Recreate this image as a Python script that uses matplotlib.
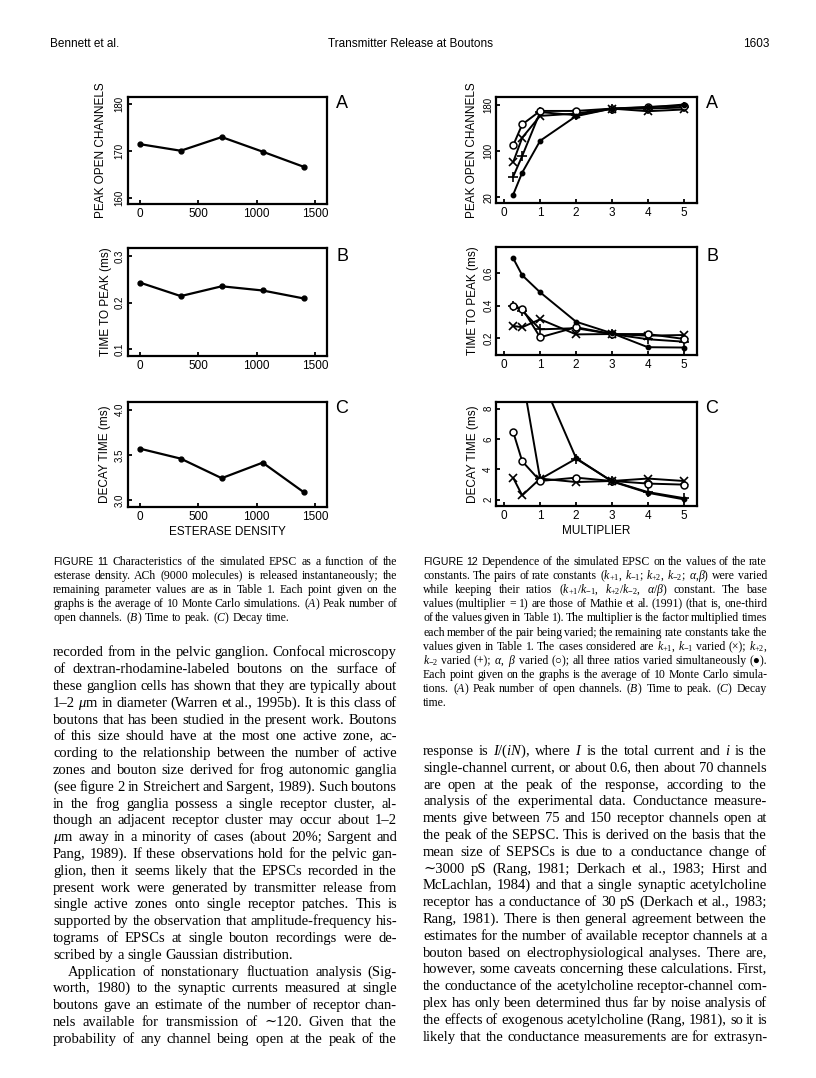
import math
import matplotlib
matplotlib.use("Agg")
import matplotlib.pyplot as plt
from matplotlib.font_manager import FontProperties
from matplotlib.backends.backend_agg import get_hinting_flag

plt.rcParams['mathtext.fontset'] = 'custom'
plt.rcParams['mathtext.rm'] = 'Liberation Serif'
plt.rcParams['mathtext.it'] = 'Liberation Serif:italic'
plt.rcParams['mathtext.bf'] = 'Liberation Serif:bold'

W, H = 816, 1078
SANS = 'Liberation Sans'
SERIF = 'Liberation Serif'
SERIF_FB = ['Liberation Serif', 'DejaVu Serif']

# ---- Figure 11: esterase density
esterase = [0, 350, 700, 1050, 1400]
peak_open_11 = [171.4, 170.0, 172.9, 169.8, 166.6]
time_to_peak_11 = [0.243, 0.214, 0.235, 0.226, 0.209]
decay_11 = [3.57, 3.46, 3.245, 3.416, 3.092]

# ---- Figure 12: rate constant multiplier
multiplier = [0.25, 0.5, 1, 2, 3, 4, 5]
peak_x = [81, 123, 160.5, 164.5, 173, 168.5, 171.5]
peak_plus = [56, 91.4, 167, 161.7, 173, 173, 175]
peak_circ = [110, 145.7, 169, 169, 173, 176, 178]
peak_dot = [25, 62.8, 117.6, 160, 173, 175, 180]

ttp_x = [0.276, 0.268, 0.317, 0.224, 0.226, 0.216, 0.22]
ttp_plus = [0.398, 0.37, 0.255, 0.262, 0.226, 0.194, 0.179]
ttp_circ = [0.398, 0.383, 0.206, 0.268, 0.226, 0.226, 0.196]
ttp_dot = [0.692, 0.588, 0.483, 0.302, 0.231, 0.145, 0.143]

decay_x = [3.43, 2.28, 3.39, 3.16, 3.23, 3.39, 3.23]
decay_plus = [14.0, 10.2, 3.35, 4.7, 3.22, 2.5, 2.1]
decay_circ = [6.46, 4.53, 3.23, 3.45, 3.23, 3.06, 2.99]
decay_dot = [18.0, 14.0, 10.2, 4.74, 3.2, 2.45, 2.02]

# ticks
ticks_11_x = [0, 500, 1000, 1500]
ticks_11 = [[160, 170, 180], [0.1, 0.2, 0.3], [3.0, 3.5, 4.0]]
ticklabels_11 = [['160', '170', '180'], ['0.1', '0.2', '0.3'], ['3.0', '3.5', '4.0']]
ticks_12_x = [0, 1, 2, 3, 4, 5]
ticks_12 = [[20, 100, 180], [0.2, 0.4, 0.6], [2, 4, 6, 8]]
ticklabels_12 = [['20', '100', '180'], ['0.2', '0.4', '0.6'], ['2', '4', '6', '8']]
ylabels = ['PEAK OPEN CHANNELS', 'TIME TO PEAK (ms)', 'DECAY TIME (ms)']
letters = ['A', 'B', 'C']

header = ['Bennett et al.', 'Transmitter Release at Boutons', '1603']

caption_11 = [
    "FIGURE 11 Characteristics of the simulated EPSC as a function of the",
    "esterase density. ACh (9000 molecules) is released instantaneously; the",
    "remaining parameter values are as in Table 1. Each point given on the",
    "graphs is the average of 10 Monte Carlo simulations. ($A$) Peak number of",
    "open channels. ($B$) Time to peak. ($C$) Decay time.",
]
caption_12 = [
    "FIGURE 12 Dependence of the simulated EPSC on the values of the rate",
    "constants. The pairs of rate constants ($k_{+1}$, $k_{-1}$; $k_{+2}$, $k_{-2}$; $\\alpha$,$\\beta$) were varied",
    "while keeping their ratios ($k_{+1}/k_{-1}$, $k_{+2}/k_{-2}$, $\\alpha/\\beta$) constant. The base",
    "values (multiplier = 1) are those of Mathie et al. (1991) (that is, one-third",
    "of the values given in Table 1). The multiplier is the factor multiplied times",
    "each member of the pair being varied; the remaining rate constants take the",
    "values given in Table 1. The cases considered are $k_{+1}$, $k_{-1}$ varied (×); $k_{+2}$,",
    "$k_{-2}$ varied (+); $\\alpha$, $\\beta$ varied (○); all three ratios varied simultaneously (●).",
    "Each point given on the graphs is the average of 10 Monte Carlo simula-",
    "tions. ($A$) Peak number of open channels. ($B$) Time to peak. ($C$) Decay",
    "time.",
]
body_left = [
    "recorded from in the pelvic ganglion. Confocal microscopy",
    "of dextran-rhodamine-labeled boutons on the surface of",
    "these ganglion cells has shown that they are typically about",
    "1–2 $\\mu$m in diameter (Warren et al., 1995b). It is this class of",
    "boutons that has been studied in the present work. Boutons",
    "of this size should have at the most one active zone, ac-",
    "cording to the relationship between the number of active",
    "zones and bouton size derived for frog autonomic ganglia",
    "(see figure 2 in Streichert and Sargent, 1989). Such boutons",
    "in the frog ganglia possess a single receptor cluster, al-",
    "though an adjacent receptor cluster may occur about 1–2",
    "$\\mu$m away in a minority of cases (about 20%; Sargent and",
    "Pang, 1989). If these observations hold for the pelvic gan-",
    "glion, then it seems likely that the EPSCs recorded in the",
    "present work were generated by transmitter release from",
    "single active zones onto single receptor patches. This is",
    "supported by the observation that amplitude-frequency his-",
    "tograms of EPSCs at single bouton recordings were de-",
    "scribed by a single Gaussian distribution.",
    "Application of nonstationary fluctuation analysis (Sig-",
    "worth, 1980) to the synaptic currents measured at single",
    "boutons gave an estimate of the number of receptor chan-",
    "nels available for transmission of ∼120. Given that the",
    "probability of any channel being open at the peak of the",
]
body_right = [
    "response is $I/(iN)$, where $I$ is the total current and $i$ is the",
    "single-channel current, or about 0.6, then about 70 channels",
    "are open at the peak of the response, according to the",
    "analysis of the experimental data. Conductance measure-",
    "ments give between 75 and 150 receptor channels open at",
    "the peak of the SEPSC. This is derived on the basis that the",
    "mean size of SEPSCs is due to a conductance change of",
    "∼3000 pS (Rang, 1981; Derkach et al., 1983; Hirst and",
    "McLachlan, 1984) and that a single synaptic acetylcholine",
    "receptor has a conductance of 30 pS (Derkach et al., 1983;",
    "Rang, 1981). There is then general agreement between the",
    "estimates for the number of available receptor channels at a",
    "bouton based on electrophysiological analyses. There are,",
    "however, some caveats concerning these calculations. First,",
    "the conductance of the acetylcholine receptor-channel com-",
    "plex has only been determined thus far by noise analysis of",
    "the effects of exogenous acetylcholine (Rang, 1981), so it is",
    "likely that the conductance measurements are for extrasyn-",
]

fig = plt.figure(figsize=(W / 100, H / 100), dpi=100)
fig.patch.set_facecolor('white')
renderer = fig.canvas.get_renderer()


def fx(px):
    return px / W


def fy(py):
    return 1 - py / H


def box(l, t, r, b):
    return fig.add_axes([fx(l), fy(b), (r - l) / W, (b - t) / H])


def style(ax, xlim, ylim, xt, yt, ytl, label, lx):
    ax.set_xlim(*xlim)
    ax.set_ylim(*ylim)
    ax.set_xticks(xt)
    ax.set_xticklabels([str(v) for v in xt], family=SANS)
    ax.set_yticks(yt)
    ax.set_yticklabels(ytl, family=SANS)
    for s in ax.spines.values():
        s.set_linewidth(1.6)
    ax.tick_params(direction='in', length=3, width=1.3)
    ax.tick_params(axis='x', labelsize=8.5, pad=3)
    ax.tick_params(axis='y', labelsize=7, pad=2, labelrotation=90)
    for t in ax.get_yticklabels():
        t.set_va('center')
    ax.set_ylabel(label, family=SANS, fontsize=8.5, va='center')
    ax.yaxis.set_label_coords(lx, 0.5)


# ---- Figure 11 panels
boxes_11 = [(127.5, 97, 327, 204), (127.5, 248, 327, 356), (127.5, 402, 327, 507)]
lims_11 = [(158.7, 181.4), (0.0857, 0.317), (2.928, 4.083)]
series_11 = [peak_open_11, time_to_peak_11, decay_11]
label_x_11 = [100.7, 106.0, 105.0]
letter_y = [104, 256.7, 408.3]
for i in range(3):
    ax = box(*boxes_11[i])
    ax.plot(esterase, series_11[i], '-o', color='black', lw=1.6, ms=3.5)
    style(ax, (-105, 1600), lims_11[i], ticks_11_x, ticks_11[i], ticklabels_11[i],
          ylabels[i], (label_x_11[i] - boxes_11[i][0]) / (boxes_11[i][2] - boxes_11[i][0]))
    fig.text(fx(342), fy(letter_y[i]), letters[i], family=SANS, fontsize=13,
             ha='center', va='center')
    if i == 2:
        ax.set_xlabel('ESTERASE DENSITY', family=SANS, fontsize=8.5, labelpad=2)

# ---- Figure 12 panels
boxes_12 = [(496, 97, 697, 203), (496, 247, 697, 355), (496, 402, 697, 506)]
lims_12 = [(10.4, 193), (0.097, 0.762), (1.58, 8.44)]
series_12 = [
    (peak_x, peak_plus, peak_circ, peak_dot),
    (ttp_x, ttp_plus, ttp_circ, ttp_dot),
    (decay_x, decay_plus, decay_circ, decay_dot),
]
label_x_12 = [471.7, 473.3, 473.3]
for i in range(3):
    ax = box(*boxes_12[i])
    sx, sp, sc, sd = series_12[i]
    ax.plot(multiplier, sx, '-x', color='black', lw=1.4, ms=6, mew=1.2)
    ax.plot(multiplier, sp, '-+', color='black', lw=1.4, ms=7, mew=1.2)
    ax.plot(multiplier, sc, '-o', color='black', lw=1.4, ms=5, mew=1.1, mfc='white')
    ax.plot(multiplier, sd, '-o', color='black', lw=1.4, ms=3.2)
    style(ax, (-0.23, 5.37), lims_12[i], ticks_12_x, ticks_12[i], ticklabels_12[i],
          ylabels[i], (label_x_12[i] - boxes_12[i][0]) / (boxes_12[i][2] - boxes_12[i][0]))
    fig.text(fx(712), fy(letter_y[i]), letters[i], family=SANS, fontsize=13,
             ha='center', va='center')
    if i == 2:
        ax.set_xlabel('MULTIPLIER', family=SANS, fontsize=8.5, labelpad=2)

# ---- header
fig.text(fx(50), fy(47), header[0], family=SANS, fontsize=8.5, va='baseline')
fig.text(fx(410), fy(47), header[1], family=SANS, fontsize=8.5, va='baseline', ha='center')
fig.text(fx(769), fy(47), header[2], family=SANS, fontsize=8.5, va='baseline', ha='right')


def baseline_fix(word, fam, size, y):
    # Agg places each word bitmap by its ink descent; undo the 1px rounding jitter
    if '$' in word:
        return 0
    font = renderer._prepare_font(FontProperties(family=fam, size=size))
    font.set_text(word, 0, flags=get_hinting_flag())
    d = font.get_descent() / 64
    _, h = font.get_width_height()
    top = h / 64 - d
    drawn = round(y + d) - math.floor(h / 64) + math.floor(top)
    return drawn - y


def put_line(text, x0, x1, base, size, justify=True, sans_words=0):
    base = round(base)
    words = text.split(' ')
    arts = []
    for k, w in enumerate(words):
        if k < sans_words:
            fam, sz = SANS, size * 0.9
        elif any(c in w for c in '∼○●'):
            fam, sz = SERIF_FB, size
        else:
            fam, sz = SERIF, size
        t = fig.text(0, 0, w, family=fam, fontsize=sz, va='baseline', ha='left')
        arts.append((t, baseline_fix(w, fam, sz, base)))
    widths = [a.get_window_extent(renderer).width for a, _ in arts]
    x = x0
    if justify and len(words) > 1:
        gap = (x1 - x - sum(widths)) / (len(words) - 1)
    else:
        gap = size * 100 / 72 * 0.25
    for (a, shift), w in zip(arts, widths):
        a.set_position((fx(x), fy(base - shift)))
        x += w + gap


def put_block(lines, x0, x1, first_base, step, size, last_plain=(), indents=None, sans_first=0):
    for k, line in enumerate(lines):
        put_line(line, x0 + (indents or {}).get(k, 0), x1, first_base + k * step, size,
                 justify=(k not in last_plain),
                 sans_words=(sans_first if k == 0 else 0))


LX0, LX1 = 53, 397
RX0, RX1 = 423, 767
put_block(caption_11, LX0, LX1, 565, 14.1, 8.5, last_plain={4}, sans_first=2)
put_block(caption_12, RX0, RX1, 565, 14.1, 8.5, last_plain={10}, sans_first=2)
put_block(body_left, LX0, LX1, 656.5, 16.8, 10.5, last_plain={18}, indents={19: 15})
put_block(body_right, RX0, RX1, 755, 16.8, 10.5)

fig.savefig('out.png', dpi=100, facecolor='white')
